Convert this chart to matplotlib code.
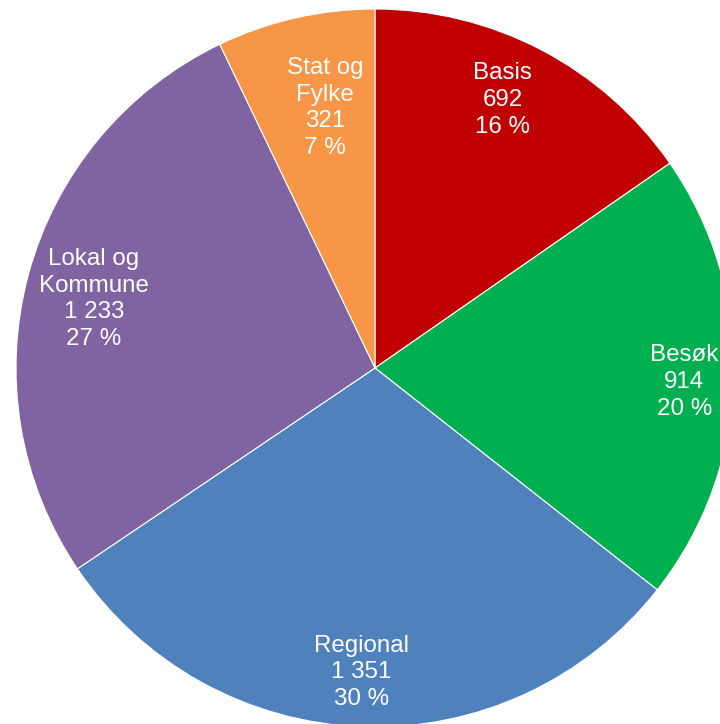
import numpy as np
import matplotlib.pyplot as plt

plt.rcParams['font.family'] = ['Liberation Sans', 'DejaVu Sans']

categories = ['Basis', 'Besøk', 'Regional', 'Lokal og\nKommune', 'Stat og\nFylke']
counts = [692, 914, 1351, 1233, 321]
count_labels = ['692', '914', '1 351', '1 233', '321']
percent_labels = ['16 %', '20 %', '30 %', '27 %', '7 %']

colors = ['#C00000', '#00B050', '#4F81BD', '#8064A2', '#F79646']
# label placement: fraction of radius and small angle nudge (deg, clockwise)
label_dist = [0.827, 0.862, 0.848, 0.806, 0.738]
label_nudge = [-2.1, 0.9, 0.5, -1.4, 1.9]

center = (375, 356)
radius = 359

fig = plt.figure(figsize=(7.2, 7.24), dpi=100)
ax = fig.add_axes([0, 0, 1, 1])

wedges, _ = ax.pie(counts, colors=colors, startangle=90, counterclock=False,
                   center=center, radius=radius,
                   wedgeprops=dict(edgecolor='white', linewidth=0.8))

# labels inside each slice: name, count, percent
for w, cat, cnt, pct, d, n in zip(wedges, categories, count_labels,
                                  percent_labels, label_dist, label_nudge):
    ang = np.deg2rad((w.theta1 + w.theta2) / 2 - n)
    x = center[0] + radius * d * np.cos(ang)
    y = center[1] + radius * d * np.sin(ang)
    ax.text(x, y, f'{cat}\n{cnt}\n{pct}', color='white', fontsize=17.4,
            ha='center', va='center', linespacing=1.27)

ax.set_xlim(0, 720)
ax.set_ylim(0, 724)
ax.set_aspect('equal')
ax.axis('off')

plt.savefig('out.png', dpi=100)
